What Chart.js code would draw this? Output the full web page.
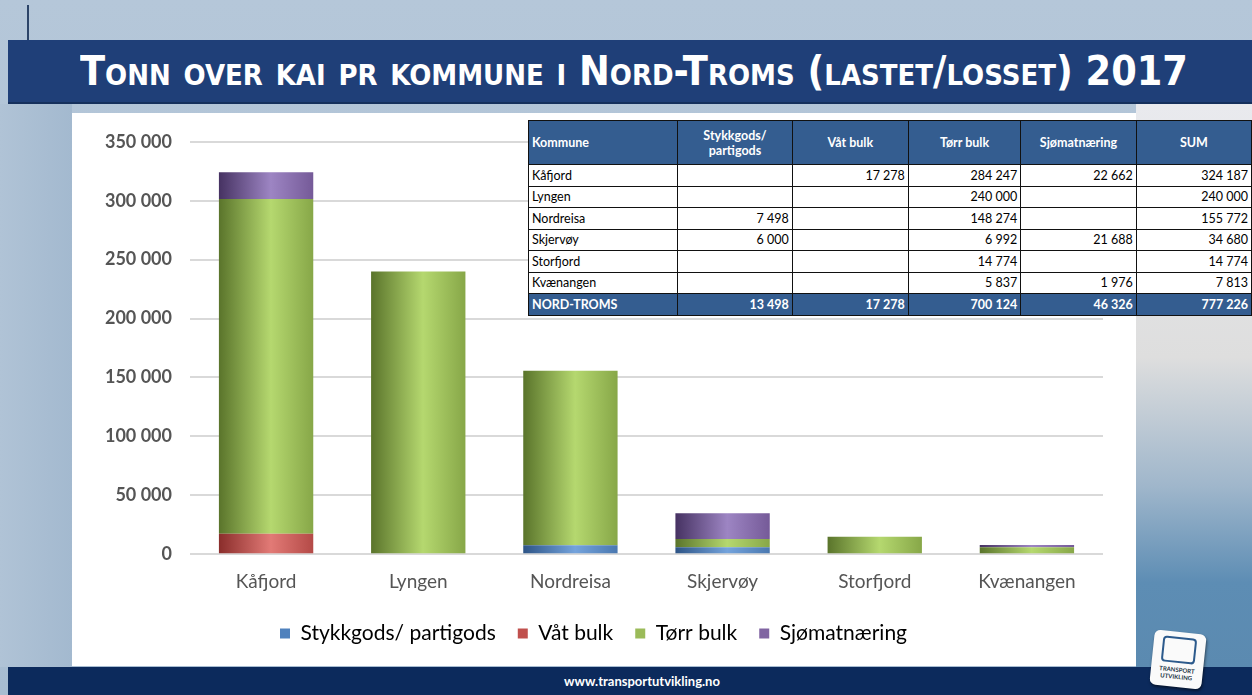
<!DOCTYPE html>
<html>
<head>
<meta charset="utf-8">
<script src="https://cdn.jsdelivr.net/npm/chart.js@4/dist/chart.umd.min.js"></script>
<style>
  html, body { margin: 0; padding: 0; }
  body { width: 1252px; height: 695px; position: relative; overflow: hidden;
    background: linear-gradient(#b5c7d9, #a7bcd1); font-family: Lato, "Open Sans", sans-serif; }
  #topline { position: absolute; left: 27px; top: 5px; width: 2px; height: 35px; background: #2c4468; }
  #header { position: absolute; left: 8px; top: 40px; width: 1244px; height: 62px;
    background: #1f3f78; border-bottom: 2px solid #15305c; }
  #title { position: absolute; left: 80px; top: 47px; color: #fff; font-family: "DejaVu Sans Condensed", "DejaVu Sans", sans-serif;
    font-weight: bold; font-size: 41px; font-variant: small-caps; white-space: nowrap;
    transform-origin: left center; transform: scaleX(1.0); }
  #leftstrip { position: absolute; left: 0; top: 104px; width: 72px; height: 563px;
    background: linear-gradient(90deg, #b0c3d6, #a3b9cf); }
  #panel { position: absolute; left: 72px; top: 113px; width: 1064px; height: 553px; background: #fff; }
  #rightside { position: absolute; left: 1136px; top: 104px; width: 116px; height: 563px;
    background: linear-gradient(#e9eaee 0%, #dedede 45%, #9fb6cb 68%, #5d8db4 85%, #5b8ab0 100%); }
  #footer { position: absolute; left: 8px; top: 667px; width: 1244px; height: 28px; background: #0c2a5c;
    color: #fff; font-weight: bold; font-size: 13px; text-align: center; line-height: 28px; }
  #footer span { position: relative; left: 12px; }
  #chartbox { position: absolute; left: 72px; top: 113px; width: 1064px; height: 553px; }
  #tbl { position: absolute; left: 528px; top: 120px; border-collapse: collapse;
    font-family: Lato, "Open Sans", sans-serif; font-size: 12.5px; background: #fff; }
  #tbl td, #tbl th { border: 1px solid #111; padding: 0 3px; height: 20.5px; white-space: nowrap; }
  #tbl th { background: #345d90; color: #fff; font-weight: bold; height: 43px; text-align: center; line-height: 15px; }
  #tbl th.first { text-align: left; }
  #tbl td.num { text-align: right; }
  #tbl tr.total td { background: #345d90; color: #fff; font-weight: bold; }
  #logo { position: absolute; left: 1152px; top: 632px; width: 52px; height: 55px; background: #fafafa;
    border-radius: 6px; transform: rotate(6deg); box-shadow: 1px 2px 3px rgba(0,0,0,0.5);
    font-size: 6px; font-weight: bold; color: #234; text-align: center; line-height: 7px; }
  #logo div.mark { width: 30px; height: 22px; margin: 5px auto 3px; border: 2px solid #2c5a8c; border-radius: 4px; }
</style>
</head>
<body>
<div id="topline"></div>
<div id="header"></div>
<div id="title">Tonn over kai pr kommune i Nord-Troms (lastet/losset) 2017</div>
<div id="leftstrip"></div>
<div id="rightside"></div>
<div id="panel"></div>
<div id="chartbox"><canvas id="tonnChart"></canvas></div>
<table id="tbl"></table>
<div id="footer"><span>www.transportutvikling.no</span></div>
<div id="logo"><div class="mark"></div>TRANSPORT<br>UTVIKLING</div>

<script>
// Data fra tabellen
const kommuner = ["Kåfjord", "Lyngen", "Nordreisa", "Skjervøy", "Storfjord", "Kvænangen"];
const stykkgods = [0, 0, 7498, 6000, 0, 0];
const vaatBulk = [17278, 0, 0, 0, 0, 0];
const toerrBulk = [284247, 240000, 148274, 6992, 14774, 5837];
const sjomat = [22662, 0, 0, 21688, 0, 1976];
const yTicks = [0, 50000, 100000, 150000, 200000, 250000, 300000, 350000];

const seriesNames = ["Stykkgods/ partigods", "Våt bulk", "Tørr bulk", "Sjømatnæring"];
const seriesColors = ["#4F81BD", "#C0504D", "#9BBB59", "#8064A2"];
// mørk kant, lys midt, høyre kant
const shades = [
  ["#2d5486", "#74a3dc", "#4a78b0"],
  ["#8a2d2b", "#e27a76", "#b44a47"],
  ["#5a742b", "#b5d86f", "#87a748"],
  ["#463262", "#9d85c3", "#755a98"]
];

function fmt(n) {
  return String(n).replace(/\B(?=(\d{3})+(?!\d))/g, " ");
}

// Tittelen skal fylle samme bredde som originalen
const title = document.getElementById("title");
title.style.transform = "scaleX(" + (1108 / title.offsetWidth) + ")";

// Bygg tabellen
const tbl = document.getElementById("tbl");
const colW = [143, 108, 110, 106, 109, 109];
let html = "<tr>";
const heads = ["Kommune", "Stykkgods/<br>partigods", "Våt bulk", "Tørr bulk", "Sjømatnæring", "SUM"];
heads.forEach((h, i) => {
  html += '<th class="' + (i === 0 ? "first" : "") + '" style="width:' + colW[i] + 'px">' + h + "</th>";
});
html += "</tr>";
const all = [stykkgods, vaatBulk, toerrBulk, sjomat];
kommuner.forEach((k, i) => {
  const sum = all.reduce((s, arr) => s + arr[i], 0);
  html += "<tr><td>" + k + "</td>";
  all.forEach((arr) => {
    html += '<td class="num">' + (arr[i] ? fmt(arr[i]) : "") + "</td>";
  });
  html += '<td class="num">' + fmt(sum) + "</td></tr>";
});
const totals = all.map((arr) => arr.reduce((a, b) => a + b, 0));
html += '<tr class="total"><td>NORD-TROMS</td>';
totals.forEach((t) => (html += '<td class="num">' + fmt(t) + "</td>"));
html += '<td class="num">' + fmt(totals.reduce((a, b) => a + b, 0)) + "</td></tr>";
tbl.innerHTML = html;

// Gradient per søyle
function barFill(idx) {
  return function (ctx) {
    const chart = ctx.chart;
    if (!chart.chartArea || ctx.dataIndex === undefined) return seriesColors[idx];
    const xs = chart.scales.x;
    const cx = xs.getPixelForValue(ctx.dataIndex);
    const w = (xs.width / kommuner.length) * 0.62;
    const g = chart.ctx.createLinearGradient(cx - w / 2, 0, cx + w / 2, 0);
    g.addColorStop(0, shades[idx][0]);
    g.addColorStop(0.55, shades[idx][1]);
    g.addColorStop(1, shades[idx][2]);
    return g;
  };
}

const datasets = [stykkgods, vaatBulk, toerrBulk, sjomat].map((arr, i) => ({
  label: seriesNames[i],
  data: arr,
  backgroundColor: barFill(i),
  borderWidth: 0,
  categoryPercentage: 1,
  barPercentage: 0.62
}));

const ctx = document.getElementById("tonnChart");

new Chart(ctx, {
  type: "bar",
  data: {
    labels: kommuner,
    datasets: datasets
  },
  options: {
    responsive: true,
    maintainAspectRatio: false,
    animation: false,
    layout: {
      padding: { left: 12, right: 33, top: 24, bottom: 12 }
    },
    plugins: {
      tooltip: { enabled: false },
      legend: {
        position: "bottom",
        labels: {
          boxWidth: 10,
          boxHeight: 10,
          padding: 22,
          color: "#555555",
          font: { family: "Lato", size: 21 },
          generateLabels: (chart) =>
            seriesNames.map((name, i) => ({
              text: name,
              fillStyle: seriesColors[i],
              strokeStyle: seriesColors[i],
              lineWidth: 0,
              datasetIndex: i
            }))
        }
      }
    },
    scales: {
      x: {
        stacked: true,
        grid: { display: false },
        border: { display: false },
        ticks: {
          color: "#555555",
          font: { family: "Lato", size: 19 },
          padding: 8
        }
      },
      y: {
        stacked: true,
        min: 0,
        max: 350000,
        afterBuildTicks: (axis) => {
          axis.ticks = yTicks.map((v) => ({ value: v }));
        },
        afterFit: (axis) => {
          axis.width = 106;
        },
        grid: { color: "#d9d9d9", lineWidth: 2, drawTicks: false },
        border: { display: false },
        ticks: {
          color: "#555555",
          font: { family: "Lato", size: 18, weight: "bold" },
          padding: 18,
          callback: (v) => fmt(v)
        }
      }
    }
  }
});
</script>
</body>
</html>
